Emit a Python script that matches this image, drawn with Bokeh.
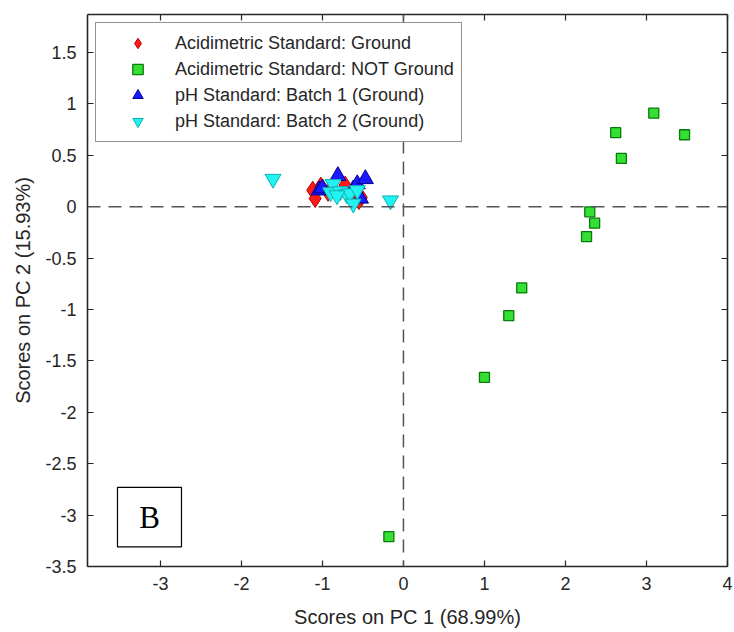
from bokeh.plotting import figure
from bokeh.models import Range1d, Span, LinearAxis, Legend, LegendItem, BoxAnnotation, Label, FixedTicker
from bokeh.embed import file_html
from bokeh.resources import INLINE

# ---- data ----
acid_ground_x = [-1.12, -1.09, -1.02, -0.93, -0.72, -0.62, -0.52, -0.55]
acid_ground_y = [0.16, 0.08, 0.20, 0.14, 0.21, 0.14, 0.09, 0.06]

acid_not_x = [2.62, 3.09, 3.47, 2.69, 2.30, 2.36, 2.26, 1.46, 1.30, 1.00, -0.18]
acid_not_y = [0.72, 0.91, 0.70, 0.47, -0.05, -0.16, -0.29, -0.79, -1.06, -1.66, -3.21]

ph1_x = [-1.04, -1.00, -0.81, -0.62, -0.57, -0.47, -0.53]
ph1_y = [0.16, 0.18, 0.30, 0.17, 0.22, 0.27, 0.08]

ph2_x = [-1.61, -0.87, -0.90, -0.78, -0.70, -0.66, -0.62, -0.57, -0.82, -0.16]
ph2_y = [0.27, 0.22, 0.14, 0.15, 0.12, 0.13, 0.03, 0.16, 0.11, 0.06]

series_labels = ["Acidimetric Standard: Ground", "Acidimetric Standard: NOT Ground",
                 "pH Standard: Batch 1 (Ground)", "pH Standard: Batch 2 (Ground)"]

x_ticks = [-3, -2, -1, 0, 1, 2, 3, 4]
x_tick_labels = ["-3", "-2", "-1", "0", "1", "2", "3", "4"]
y_ticks = [-3.5, -3, -2.5, -2, -1.5, -1, -0.5, 0, 0.5, 1, 1.5]
y_tick_labels = ["-3.5", "-3", "-2.5", "-2", "-1.5", "-1", "-0.5", "0", "0.5", "1", "1.5"]

x_label = "Scores on PC 1 (68.99%)"
y_label = "Scores on PC 2 (15.93%)"
panel_letter = "B"

FONT = "Liberation Sans"
TXT = "#262626"

p = figure(width=734, height=632, output_backend="svg", toolbar_location=None,
           x_range=Range1d(-3.9, 4), y_range=Range1d(-3.5, 1.87),
           min_border_left=87, min_border_right=7, min_border_top=14, min_border_bottom=66,
           x_axis_label=x_label, y_axis_label=y_label)
p.grid.visible = False
p.outline_line_color = None
p.background_fill_color = "white"
p.border_fill_color = "white"

def style_axis(ax, ticks, labels, show_labels=True):
    ax.ticker = FixedTicker(ticks=ticks)
    ax.major_label_overrides = {t: l for t, l in zip(ticks, labels)}
    ax.major_tick_in = 6
    ax.major_tick_out = 0
    ax.minor_tick_line_color = None
    ax.axis_line_color = TXT
    ax.axis_line_width = 1.6
    ax.major_tick_line_color = TXT
    ax.major_tick_line_width = 1.2
    ax.major_label_text_font = FONT
    ax.major_label_text_font_size = "18px" if show_labels else "0px"
    ax.major_label_text_color = TXT
    ax.axis_label_text_font = FONT
    ax.axis_label_text_font_size = "20px"
    ax.axis_label_text_font_style = "normal"
    ax.axis_label_text_color = TXT

style_axis(p.xaxis[0], x_ticks, x_tick_labels)
style_axis(p.yaxis[0], y_ticks, y_tick_labels)
p.xaxis[0].major_label_standoff = 10
p.xaxis[0].axis_label_standoff = 13
p.yaxis[0].major_label_standoff = 11
p.yaxis[0].axis_label_standoff = 8

top_ax = LinearAxis()
style_axis(top_ax, x_ticks, x_tick_labels, show_labels=False)
top_ax.major_label_standoff = 0
right_ax = LinearAxis()
style_axis(right_ax, y_ticks, y_tick_labels, show_labels=False)
right_ax.major_label_standoff = 0
p.add_layout(top_ax, "above")
p.add_layout(right_ax, "right")

# dashed zero lines
p.add_layout(Span(location=0, dimension="width", line_color="#555555", line_width=1.5, line_dash="13 8"))
p.add_layout(Span(location=0, dimension="height", line_color="#555555", line_width=1.5, line_dash="13 8"))

r1 = p.scatter(acid_ground_x, acid_ground_y, marker="diamond", size=18,
               fill_color="#ff1a1a", line_color="#b00000", line_width=1)
r2 = p.scatter(acid_not_x, acid_not_y, marker="square", size=10,
               fill_color="#33e033", line_color="#0a7a0a", line_width=1.3)
r3 = p.scatter(ph1_x, ph1_y, marker="triangle", size=16,
               fill_color="#1a1aff", line_color="#000090", line_width=1)
r4 = p.scatter(ph2_x, ph2_y, marker="inverted_triangle", size=16,
               fill_color="#22f2f2", line_color="#10b0b0", line_width=1)

legend = Legend(items=[LegendItem(label=l, renderers=[r]) for l, r in zip(series_labels, [r1, r2, r3, r4])],
                location="top_left", margin=8, padding=7, spacing=0,
                glyph_width=69, glyph_height=26, label_height=26, label_standoff=3,
                label_text_font=FONT, label_text_font_size="18px", label_text_color=TXT,
                border_line_color=TXT, border_line_width=1, background_fill_color="white",
                background_fill_alpha=1)
p.add_layout(legend)

# panel letter box
p.add_layout(BoxAnnotation(left=-3.53, right=-2.74, top=-2.73, bottom=-3.31,
                           fill_color="white", fill_alpha=1, line_color="black", line_alpha=1,
                           line_width=1.2))
p.add_layout(Label(x=-3.135, y=-3.02, text=panel_letter, text_align="center", text_baseline="middle",
                   text_font="Liberation Serif", text_font_size="31px", text_color="black"))

open("out.html", "w").write(file_html(p, INLINE))
